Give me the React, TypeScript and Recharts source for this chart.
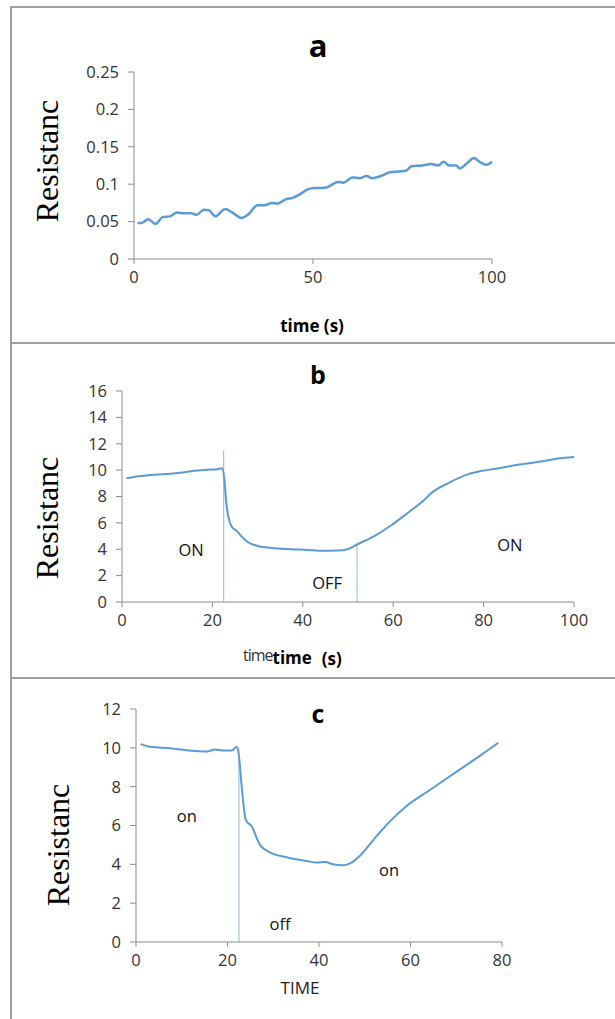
import { LineChart, Line, XAxis, YAxis, ReferenceLine, ReferenceDot } from "recharts";

// panel a: resistance vs time, slow drift
const A_TIME = [1, 2, 4, 6, 8, 10, 12, 14, 16, 17.5, 19.5, 21, 22.7, 25.5, 27.2, 30, 32, 34.5, 36.5, 38.5, 40, 42.5, 44.5, 46.5, 48.5, 50.5, 52.5, 54, 57, 58.5, 61, 63, 65, 66.5, 69, 71.5, 74, 76, 77.5, 80.5, 83, 85, 86.5, 88, 90, 91, 93, 95, 96.5, 98.5, 100];
const A_RES = [0.048, 0.048, 0.053, 0.047, 0.056, 0.057, 0.062, 0.061, 0.061, 0.059, 0.066, 0.065, 0.057, 0.067, 0.063, 0.055, 0.06, 0.072, 0.072, 0.075, 0.074, 0.08, 0.082, 0.087, 0.093, 0.095, 0.095, 0.096, 0.103, 0.102, 0.109, 0.108, 0.111, 0.108, 0.111, 0.116, 0.117, 0.118, 0.124, 0.125, 0.127, 0.125, 0.13, 0.125, 0.125, 0.121, 0.128, 0.135, 0.13, 0.126, 0.13];
const A_XTICKS = [0, 50, 100];
const A_YTICKS = [0, 0.05, 0.1, 0.15, 0.2, 0.25];

// panel b: ON / OFF / ON
const B_TIME = [1, 4.2, 8.6, 12.3, 16, 19, 20.8, 22.1, 22.6, 23, 23.5, 24.3, 25.4, 26.7, 27.8, 30, 33, 37.4, 41.1, 44, 47.7, 49.9, 52.1, 55.8, 59.5, 63.2, 66.9, 68.4, 72.1, 76.5, 79.4, 83.1, 87.5, 92.7, 96.4, 100];
const B_RES = [9.38, 9.55, 9.68, 9.78, 9.95, 10.03, 10.05, 10.15, 9.5, 7.75, 6.5, 5.7, 5.38, 4.88, 4.55, 4.25, 4.1, 4.0, 3.95, 3.88, 3.9, 4.0, 4.38, 5.0, 5.8, 6.75, 7.75, 8.25, 9.0, 9.68, 9.93, 10.13, 10.4, 10.65, 10.88, 11.0];
const B_XTICKS = [0, 20, 40, 60, 80, 100];
const B_YTICKS = [0, 2, 4, 6, 8, 10, 12, 14, 16];
const B_MARKERS = [
  { t: 22.5, top: 11.5 },
  { t: 52, top: 4.4 },
];
const B_NOTES = [
  { t: 15.3, v: 3.9, text: "ON" },
  { t: 45.4, v: 1.4, text: "OFF" },
  { t: 85.8, v: 4.3, text: "ON" },
];

// panel c: on / off / on
const C_TIME = [1, 3.1, 7.4, 11.1, 15.5, 17.3, 19.1, 20.9, 22, 22.5, 23.1, 24, 25.3, 27.1, 28.9, 32.9, 37.3, 39.5, 41.3, 43.1, 45, 46.8, 48.6, 51.9, 55.5, 59.2, 64, 70, 75, 79.2];
const C_RES = [10.19, 10.05, 9.98, 9.88, 9.81, 9.91, 9.86, 9.86, 10.05, 9.57, 8.02, 6.29, 5.95, 5.0, 4.66, 4.36, 4.17, 4.09, 4.12, 4.0, 3.95, 4.05, 4.36, 5.26, 6.21, 7.02, 7.79, 8.76, 9.56, 10.26];
const C_XTICKS = [0, 20, 40, 60, 80];
const C_YTICKS = [0, 2, 4, 6, 8, 10, 12];
const C_MARKERS = [{ t: 22.5, top: 10 }];
const C_NOTES = [
  { t: 11.1, v: 6.5, text: "on" },
  { t: 31.5, v: 0.9, text: "off" },
  { t: 55.3, v: 3.7, text: "on" },
];

const BLUE = "#5b9bd5";
const MARK = "#8db8e2";
const AXIS = "#8c8c8c";
const FRAME = "#a0a0a0";
const SANS = "'Open Sans', sans-serif";
const TICK = { fontSize: 16.5, fill: "#333", fontFamily: SANS };

const zip = (ts: number[], vs: number[]) => ts.map((t, i) => ({ t, v: vs[i] }));

interface PanelProps {
  top: number;
  height: number;
  margin: { top: number; right: number; bottom: number; left: number };
  data: { t: number; v: number }[];
  xTicks: number[];
  yTicks: number[];
  strokeWidth: number;
  markers?: { t: number; top: number }[];
  notes?: { t: number; v: number; text: string }[];
}

function Panel({ top, height, margin, data, xTicks, yTicks, strokeWidth, markers = [], notes = [] }: PanelProps) {
  return (
    <div style={{ position: "absolute", left: 0, top }}>
      <LineChart width={615} height={height} data={data} margin={margin}>
        <XAxis
          dataKey="t"
          type="number"
          domain={[xTicks[0], xTicks[xTicks.length - 1]]}
          ticks={xTicks}
          interval={0}
          height={30}
          stroke={AXIS}
          tickSize={5}
          tickMargin={7}
          tick={TICK}
        />
        <YAxis
          type="number"
          domain={[yTicks[0], yTicks[yTicks.length - 1]]}
          ticks={yTicks}
          interval={0}
          width={60}
          stroke={AXIS}
          tickSize={6}
          tickMargin={9}
          tick={TICK}
        />
        {markers.map((m, i) => (
          <ReferenceLine
            key={i}
            segment={[{ x: m.t, y: 0 }, { x: m.t, y: m.top }]}
            stroke={MARK}
            strokeWidth={1}
          />
        ))}
        <Line
          dataKey="v"
          type="monotone"
          stroke={BLUE}
          strokeWidth={strokeWidth}
          dot={false}
          isAnimationActive={false}
        />
        {notes.map((n, i) => (
          <ReferenceDot
            key={i}
            x={n.t}
            y={n.v}
            r={0}
            fill="none"
            stroke="none"
            label={{ value: n.text, position: "center", fill: "#111", fontSize: 16.5, fontFamily: SANS }}
          />
        ))}
      </LineChart>
    </div>
  );
}

const abs = (left: number, top: number, extra: React.CSSProperties = {}): React.CSSProperties => ({
  position: "absolute",
  left,
  top,
  transform: "translate(-50%, -50%)",
  whiteSpace: "nowrap",
  lineHeight: 1,
  ...extra,
});

function YTitle({ x, y }: { x: number; y: number }) {
  return (
    <div
      style={{
        ...abs(x, y),
        transform: "translate(-50%, -50%) rotate(-90deg)",
        fontFamily: "'Liberation Serif', serif",
        fontSize: 32,
        color: "#000",
      }}
    >
      Resistanc
    </div>
  );
}

export default function App() {
  return (
    <div
      style={{
        position: "absolute",
        left: 0,
        top: 0,
        width: 615,
        height: 1019,
        background: "#fff",
        overflow: "hidden",
        fontFamily: SANS,
      }}
    >
      {/* frame lines */}
      <div style={{ position: "absolute", left: 10, top: 6, width: 605, height: 2, background: FRAME }} />
      <div style={{ position: "absolute", left: 10, top: 6, width: 2, height: 1013, background: FRAME }} />
      <div style={{ position: "absolute", left: 10, top: 342, width: 605, height: 2, background: FRAME }} />
      <div style={{ position: "absolute", left: 10, top: 677, width: 605, height: 2, background: FRAME }} />

      <Panel
        top={0}
        height={343}
        margin={{ top: 72, right: 123, bottom: 54, left: 74 }}
        data={zip(A_TIME, A_RES)}
        xTicks={A_XTICKS}
        yTicks={A_YTICKS}
        strokeWidth={2.5}
      />
      <div style={abs(318, 45, { fontWeight: 700, fontSize: 31, color: "#000" })}>a</div>
      <YTitle x={47} y={161} />
      <div style={abs(312, 325, { fontWeight: 700, fontSize: 17, color: "#000" })}>time (s)</div>

      <Panel
        top={343}
        height={335}
        margin={{ top: 48, right: 41, bottom: 46, left: 62 }}
        data={zip(B_TIME, B_RES)}
        xTicks={B_XTICKS}
        yTicks={B_YTICKS}
        strokeWidth={2}
        markers={B_MARKERS}
        notes={B_NOTES}
      />
      <div style={abs(318, 374, { fontWeight: 700, fontSize: 25, color: "#000" })}>b</div>
      <YTitle x={47} y={518} />
      <div style={{ position: "absolute", left: 243, top: 646, whiteSpace: "nowrap", lineHeight: 1, color: "#000" }}>
        <span style={{ color: "#333", fontSize: 16, letterSpacing: -1 }}>time</span>
        <span style={{ fontWeight: 700, fontSize: 17, position: "relative", top: 3 }}>time</span>
        <span style={{ fontWeight: 700, fontSize: 17, marginLeft: 10, position: "relative", top: 4 }}>(s)</span>
      </div>

      <Panel
        top={678}
        height={341}
        margin={{ top: 31, right: 113, bottom: 47, left: 76 }}
        data={zip(C_TIME, C_RES)}
        xTicks={C_XTICKS}
        yTicks={C_YTICKS}
        strokeWidth={2}
        markers={C_MARKERS}
        notes={C_NOTES}
      />
      <div style={abs(318, 713, { fontWeight: 700, fontSize: 25, color: "#000" })}>c</div>
      <YTitle x={58} y={845} />
      <div style={abs(300, 987, { fontSize: 17, color: "#222" })}>TIME</div>
    </div>
  );
}
